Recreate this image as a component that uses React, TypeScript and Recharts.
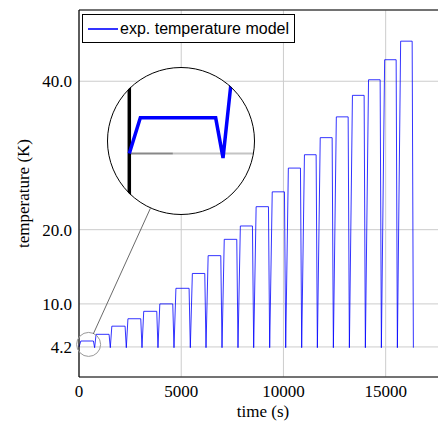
import { LineChart, Line, XAxis, YAxis, CartesianGrid, Legend, ReferenceLine, ReferenceDot } from "recharts"

const pulseLevel = [5.0, 5.9, 7.0, 8.0, 9.0, 10.0, 12.1, 14.1, 16.5, 18.7, 20.5, 23.1, 25.1, 28.3, 30.1, 32.4, 35.2, 38.1, 40.2, 42.9, 45.4]
// time (s) where each pulse falls back to the base temperature
const pulseEnd = [765, 1531, 2314, 3081, 3863, 4646, 5445, 6212, 6995, 7777, 8544, 9327, 10110, 10892, 11659, 12442, 13225, 14007, 14790, 15573, 16356]
// seconds needed to climb onto each plateau
const pulseRise = [90, 70, 75, 80, 85, 90, 95, 100, 105, 110, 115, 120, 125, 130, 135, 140, 145, 150, 155, 160, 160]
const baseTemp = 4.2
const dipTemp = 4.1
const dropTime = 60

const xTicks = [0, 5000, 10000, 15000]
const yTicks = [4.2, 10, 20, 40]
const yTickLabels = ["4.2", "10.0", "20.0", "40.0"]

const data: { t: number; T: number }[] = [{ t: 0, T: baseTemp }]
pulseLevel.forEach((lvl, i) => {
    const start = (i === 0 ? 0 : pulseEnd[i - 1]) + pulseRise[i]
    data.push({ t: start, T: lvl })
    data.push({ t: pulseEnd[i] - dropTime, T: lvl })
    data.push({ t: pulseEnd[i], T: dipTemp })
})

const serif = "Liberation Serif"
const sans = "Liberation Sans"

const LegendBox = () => (
    <div style={{
        display: "flex", alignItems: "center", border: "1px solid #000", background: "#fff",
        height: 27, padding: "0 5px 0 5px", fontFamily: sans, fontSize: 16, color: "#000", whiteSpace: "nowrap"
    }}>
        <svg width={30} height={4} style={{ marginRight: 2 }}>
            <line x1={0} x2={30} y1={2} y2={2} stroke="#0000ff" strokeWidth={1.6} />
        </svg>
        <span>exp. temperature model</span>
    </div>
)

const YLabel = (props: any) => {
    const vb = props.viewBox
    const cx = 23
    const cy = vb.y + vb.height / 2
    return (
        <text x={cx} y={cy} transform={`rotate(-90 ${cx} ${cy})`} textAnchor="middle" dominantBaseline="central"
            style={{ fontFamily: serif }} fontSize={17} fill="#000">temperature (K)</text>
    )
}

const XTick = (p: any) => (
    <text x={p.x} y={p.y} dy="0.71em" textAnchor="middle" fontSize={17} fill="#000" style={{ fontFamily: serif }}>
        {p.payload.value}
    </text>
)

const YTick = (p: any) => (
    <text x={p.x} y={p.y} dy="0.355em" textAnchor="end" fontSize={17} fill="#000" style={{ fontFamily: serif }}>
        {yTickLabels[yTicks.indexOf(p.payload.value)]}
    </text>
)

const App = () => {
    return (
        <div style={{ position: "absolute", left: 0, top: 0, width: 438, height: 423, overflow: "hidden", background: "#fff", fontFamily: serif }}>
            <LineChart width={447} height={423} data={data} margin={{ top: 10, right: 0, bottom: 0, left: 0 }}>
                <CartesianGrid stroke="#cccccc" strokeWidth={1} />
                <XAxis dataKey="t" type="number" domain={[0, 18000]} ticks={xTicks} height={46}
                    tickSize={0} tickMargin={8} tickLine={false} axisLine={{ stroke: "#000", strokeWidth: 1.2 }}
                    tick={<XTick />}
                    label={{ value: "time (s)", position: "insideBottom", offset: 6, fill: "#000", fontSize: 17, style: { fontFamily: serif } }} />
                <YAxis type="number" domain={[0.15, 49.6]} ticks={yTicks} width={79} allowDataOverflow
                    tickSize={0} tickMargin={7} tickLine={false} axisLine={{ stroke: "#000", strokeWidth: 1.2 }}
                    tick={<YTick />}
                    label={<YLabel />} />
                <ReferenceLine y={49.6} stroke="#000" strokeWidth={1.2} />
                <Legend layout="horizontal" verticalAlign="middle" align="center" content={<LegendBox />}
                    wrapperStyle={{ position: "absolute", left: 82, top: 14, width: "auto" }} />
                <Line type="linear" dataKey="T" stroke="#0000ff" strokeWidth={0.8} dot={false} isAnimationActive={false} />
                <ReferenceDot x={470} y={4.54} r={12} fill="none" stroke="#999" strokeWidth={1} />
            </LineChart>

            {/* magnified view of the first pulse */}
            <div style={{ position: "absolute", left: 107, top: 67, width: 148, height: 148, borderRadius: "50%", overflow: "hidden", background: "#fff" }}>
                <LineChart width={148} height={148} data={data} margin={{ top: 0, right: 0, bottom: 0, left: 0 }}>
                    <XAxis dataKey="t" type="number" domain={[-182, 1026]} hide allowDataOverflow />
                    <YAxis type="number" domain={[2.82, 6.14]} hide allowDataOverflow />
                    <ReferenceLine segment={[{ x: 0, y: baseTemp }, { x: 356, y: baseTemp }]} stroke="#888" strokeWidth={2} />
                    <ReferenceLine segment={[{ x: 356, y: baseTemp }, { x: 1026, y: baseTemp }]} stroke="#c4c4c4" strokeWidth={2} />
                    <ReferenceLine x={0} stroke="#000" strokeWidth={3.5} />
                    <Line type="linear" dataKey="T" stroke="#0000ff" strokeWidth={3.5} dot={false} isAnimationActive={false} />
                </LineChart>
            </div>
            <div style={{ position: "absolute", left: 107, top: 67, width: 148, height: 148, borderRadius: "50%", border: "1.2px solid #000", boxSizing: "border-box", pointerEvents: "none" }} />
            <svg width={438} height={423} style={{ position: "absolute", left: 0, top: 0, pointerEvents: "none" }}>
                <line x1={93.3} y1={333.9} x2={150.4} y2={208.3} stroke="#444" strokeWidth={0.8} />
            </svg>
        </div>
    )
}

export default App
